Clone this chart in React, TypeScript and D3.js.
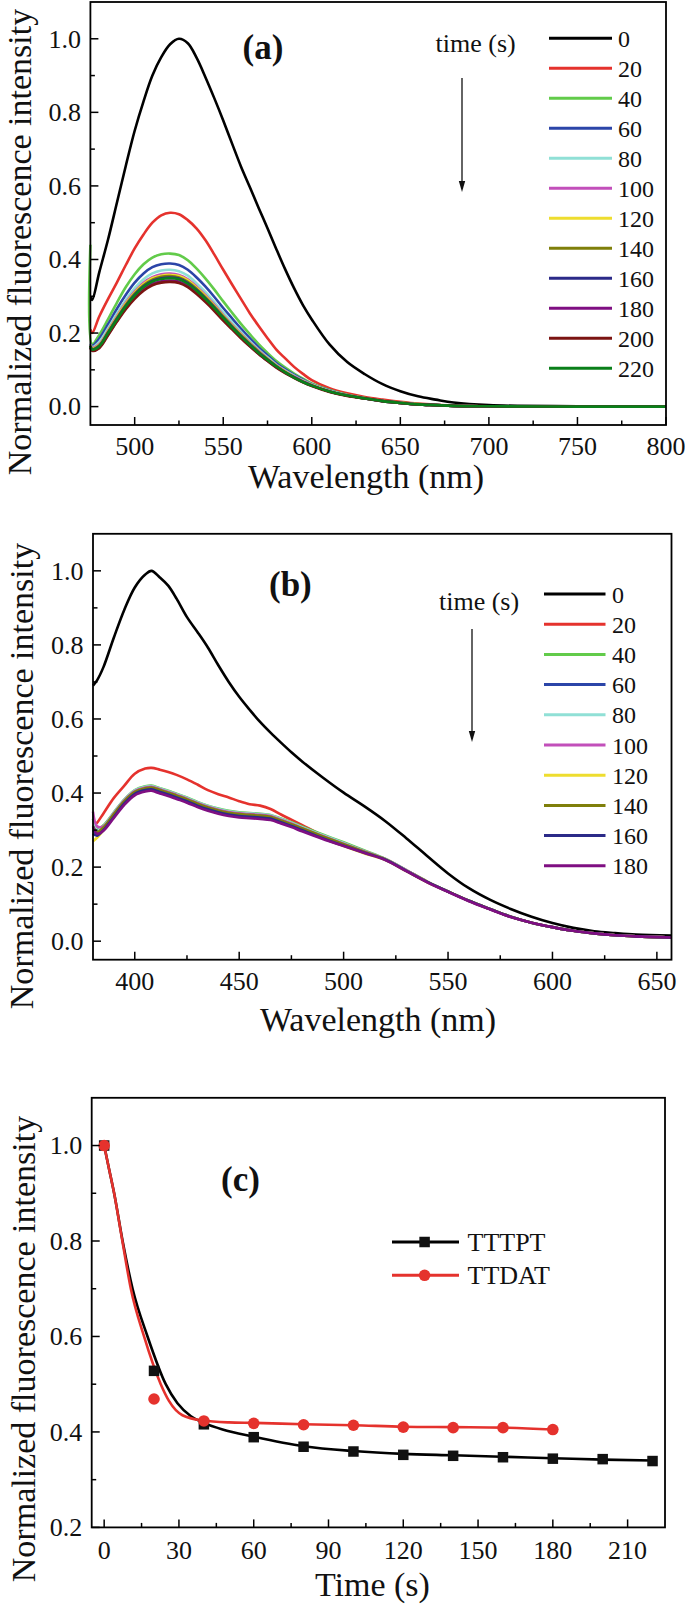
import React from 'react';
import * as d3 from 'd3';

const FONT = 'Liberation Serif, Tinos, Times New Roman, DejaVu Serif, serif';

// ---------- Panel (a) ----------
const A_WL = [475, 476, 480, 485, 490, 495, 500, 505, 510, 515, 520, 525, 530, 535, 540, 545, 550, 555, 560, 565, 570, 575, 580, 585, 590, 595, 600, 610, 620, 630, 640, 650, 660, 670, 680, 700, 750, 800];
const A_T0 = [0.30, 0.29, 0.365, 0.455, 0.555, 0.655, 0.75, 0.83, 0.90, 0.95, 0.985, 1.0, 0.988, 0.948, 0.895, 0.838, 0.778, 0.715, 0.653, 0.597, 0.54, 0.485, 0.428, 0.373, 0.322, 0.276, 0.237, 0.169, 0.121, 0.088, 0.061, 0.042, 0.028, 0.019, 0.011, 0.004, 0.001, 0.0];
const A_T20 = [0.21, 0.2, 0.245, 0.293, 0.338, 0.385, 0.43, 0.468, 0.5, 0.52, 0.527, 0.523, 0.507, 0.484, 0.452, 0.413, 0.372, 0.332, 0.293, 0.254, 0.219, 0.186, 0.155, 0.131, 0.108, 0.089, 0.072, 0.05, 0.036, 0.026, 0.019, 0.013, 0.008, 0.005, 0.003, 0.001, 0, 0];
const A_T40 = [0.44, 0.17, 0.195, 0.238, 0.283, 0.325, 0.36, 0.387, 0.405, 0.414, 0.416, 0.412, 0.398, 0.375, 0.348, 0.318, 0.286, 0.255, 0.225, 0.197, 0.17, 0.146, 0.124, 0.106, 0.09, 0.076, 0.063, 0.045, 0.032, 0.023, 0.016, 0.011, 0.007, 0.004, 0.002, 0.001, 0, 0];
const A_T60 = [0.17, 0.165, 0.185, 0.224, 0.266, 0.304, 0.337, 0.362, 0.379, 0.387, 0.389, 0.385, 0.372, 0.351, 0.326, 0.298, 0.268, 0.24, 0.212, 0.186, 0.161, 0.139, 0.118, 0.101, 0.086, 0.073, 0.061, 0.044, 0.031, 0.022, 0.015, 0.01, 0.006, 0.004, 0.002, 0.001, 0, 0];
const A_T80 = [0.17, 0.162, 0.176, 0.213, 0.253, 0.29, 0.322, 0.346, 0.362, 0.37, 0.372, 0.368, 0.356, 0.335, 0.311, 0.284, 0.256, 0.229, 0.203, 0.178, 0.155, 0.134, 0.114, 0.098, 0.084, 0.071, 0.06, 0.043, 0.031, 0.022, 0.015, 0.01, 0.006, 0.004, 0.002, 0.001, 0, 0];
const A_T100 = [0.168, 0.16, 0.17, 0.207, 0.246, 0.283, 0.313, 0.337, 0.352, 0.36, 0.362, 0.358, 0.346, 0.326, 0.303, 0.277, 0.249, 0.223, 0.198, 0.174, 0.152, 0.131, 0.112, 0.096, 0.082, 0.07, 0.059, 0.042, 0.03, 0.022, 0.015, 0.01, 0.006, 0.004, 0.002, 0.001, 0, 0];
const A_T120 = [0.166, 0.158, 0.168, 0.205, 0.244, 0.28, 0.31, 0.333, 0.349, 0.356, 0.358, 0.355, 0.343, 0.323, 0.3, 0.274, 0.247, 0.221, 0.196, 0.172, 0.15, 0.13, 0.111, 0.095, 0.081, 0.069, 0.058, 0.042, 0.03, 0.022, 0.015, 0.01, 0.006, 0.004, 0.002, 0.001, 0, 0];
const A_T140 = [0.165, 0.157, 0.166, 0.203, 0.241, 0.277, 0.307, 0.33, 0.345, 0.353, 0.355, 0.351, 0.339, 0.32, 0.297, 0.272, 0.245, 0.219, 0.194, 0.171, 0.149, 0.129, 0.11, 0.094, 0.08, 0.068, 0.058, 0.041, 0.03, 0.022, 0.015, 0.01, 0.006, 0.004, 0.002, 0.001, 0, 0];
const A_T160 = [0.164, 0.156, 0.165, 0.201, 0.239, 0.274, 0.304, 0.327, 0.342, 0.349, 0.351, 0.348, 0.336, 0.317, 0.294, 0.269, 0.242, 0.217, 0.192, 0.169, 0.147, 0.128, 0.109, 0.093, 0.08, 0.068, 0.057, 0.041, 0.03, 0.022, 0.015, 0.01, 0.006, 0.004, 0.002, 0.001, 0, 0];
const A_T180 = [0.16, 0.153, 0.161, 0.196, 0.233, 0.268, 0.297, 0.319, 0.334, 0.341, 0.343, 0.34, 0.328, 0.31, 0.288, 0.263, 0.237, 0.212, 0.188, 0.165, 0.144, 0.125, 0.107, 0.092, 0.079, 0.067, 0.057, 0.041, 0.03, 0.022, 0.015, 0.01, 0.006, 0.004, 0.002, 0.001, 0, 0];
const A_T200 = [0.16, 0.152, 0.159, 0.194, 0.231, 0.265, 0.293, 0.315, 0.33, 0.337, 0.339, 0.336, 0.325, 0.306, 0.284, 0.26, 0.234, 0.21, 0.186, 0.164, 0.143, 0.124, 0.106, 0.091, 0.078, 0.066, 0.056, 0.04, 0.029, 0.022, 0.015, 0.01, 0.006, 0.004, 0.002, 0.001, 0, 0];
const A_T220 = [0.165, 0.155, 0.164, 0.2, 0.237, 0.273, 0.302, 0.325, 0.34, 0.347, 0.349, 0.346, 0.334, 0.315, 0.292, 0.267, 0.241, 0.215, 0.191, 0.168, 0.146, 0.127, 0.109, 0.093, 0.079, 0.067, 0.057, 0.041, 0.03, 0.022, 0.015, 0.01, 0.006, 0.004, 0.002, 0.001, 0, 0];
const A_SERIES = [A_T0, A_T20, A_T40, A_T60, A_T80, A_T100, A_T120, A_T140, A_T160, A_T180, A_T200, A_T220];
const A_LABELS = ['0', '20', '40', '60', '80', '100', '120', '140', '160', '180', '200', '220'];
const A_COLORS = ['#000000', '#E5322D', '#62CB4A', '#2B45A8', '#90E0D6', '#C24FBA', '#EEDD2E', '#7F7F0A', '#2B2A88', '#7F0F82', '#7B1412', '#0A7F1A'];
const A_X_TICKS = [500, 550, 600, 650, 700, 750, 800];
const A_X_MINOR = [525, 575, 625, 675, 725, 775];

// ---------- Panel (b) ----------
const B_WL = [380, 382, 385, 390, 395, 400, 405, 408, 412, 416, 420, 425, 430, 435, 440, 445, 450, 455, 460, 465, 470, 475, 480, 490, 500, 510, 520, 530, 540, 550, 560, 570, 580, 590, 600, 610, 620, 630, 640, 657];
const B_T0 = [0.69, 0.705, 0.74, 0.82, 0.895, 0.955, 0.99, 1.0, 0.982, 0.96, 0.925, 0.875, 0.835, 0.793, 0.745, 0.70, 0.66, 0.625, 0.592, 0.563, 0.536, 0.51, 0.486, 0.442, 0.401, 0.364, 0.324, 0.278, 0.23, 0.183, 0.143, 0.112, 0.087, 0.066, 0.049, 0.036, 0.027, 0.022, 0.018, 0.015];
const B_T20 = [0.31, 0.32, 0.345, 0.387, 0.42, 0.452, 0.466, 0.468, 0.463, 0.457, 0.449, 0.437, 0.423, 0.408, 0.397, 0.388, 0.378, 0.37, 0.366, 0.357, 0.342, 0.328, 0.314, 0.285, 0.262, 0.242, 0.222, 0.192, 0.161, 0.134, 0.109, 0.087, 0.066, 0.05, 0.038, 0.028, 0.021, 0.016, 0.013, 0.01];
const B_T40 = [0.33, 0.303, 0.313, 0.348, 0.383, 0.408, 0.418, 0.42, 0.413, 0.406, 0.398, 0.388, 0.376, 0.366, 0.358, 0.352, 0.348, 0.346, 0.344, 0.341, 0.331, 0.321, 0.31, 0.288, 0.267, 0.245, 0.222, 0.192, 0.161, 0.134, 0.109, 0.087, 0.066, 0.05, 0.038, 0.028, 0.021, 0.016, 0.013, 0.01];
const B_T60 = [0.30, 0.29, 0.305, 0.343, 0.378, 0.403, 0.413, 0.415, 0.408, 0.401, 0.393, 0.383, 0.371, 0.361, 0.353, 0.347, 0.343, 0.341, 0.339, 0.336, 0.326, 0.316, 0.305, 0.283, 0.262, 0.241, 0.221, 0.191, 0.16, 0.134, 0.109, 0.087, 0.066, 0.05, 0.038, 0.028, 0.021, 0.016, 0.013, 0.01];
const B_T80 = [0.33, 0.30, 0.31, 0.347, 0.382, 0.407, 0.417, 0.419, 0.412, 0.405, 0.397, 0.387, 0.375, 0.365, 0.357, 0.351, 0.347, 0.345, 0.343, 0.34, 0.33, 0.32, 0.308, 0.286, 0.265, 0.243, 0.222, 0.191, 0.16, 0.134, 0.109, 0.087, 0.066, 0.05, 0.038, 0.028, 0.021, 0.016, 0.013, 0.01];
const B_T100 = [0.35, 0.31, 0.31, 0.345, 0.38, 0.405, 0.415, 0.417, 0.41, 0.403, 0.395, 0.385, 0.373, 0.363, 0.355, 0.349, 0.345, 0.343, 0.341, 0.338, 0.328, 0.318, 0.306, 0.284, 0.263, 0.242, 0.221, 0.191, 0.16, 0.134, 0.109, 0.087, 0.066, 0.05, 0.038, 0.028, 0.021, 0.016, 0.013, 0.01];
const B_T120 = [0.27, 0.28, 0.3, 0.338, 0.374, 0.40, 0.41, 0.412, 0.405, 0.398, 0.39, 0.38, 0.368, 0.358, 0.35, 0.344, 0.34, 0.337, 0.334, 0.331, 0.321, 0.311, 0.3, 0.278, 0.257, 0.237, 0.219, 0.189, 0.159, 0.134, 0.109, 0.087, 0.066, 0.05, 0.038, 0.028, 0.021, 0.016, 0.013, 0.01];
const B_T140 = [0.31, 0.295, 0.307, 0.343, 0.378, 0.403, 0.413, 0.415, 0.408, 0.401, 0.393, 0.383, 0.371, 0.361, 0.353, 0.347, 0.343, 0.341, 0.339, 0.336, 0.326, 0.316, 0.305, 0.283, 0.262, 0.241, 0.221, 0.19, 0.16, 0.134, 0.109, 0.087, 0.066, 0.05, 0.038, 0.028, 0.021, 0.016, 0.013, 0.01];
const B_T160 = [0.29, 0.285, 0.3, 0.336, 0.372, 0.398, 0.408, 0.41, 0.403, 0.396, 0.388, 0.378, 0.366, 0.356, 0.348, 0.342, 0.338, 0.336, 0.334, 0.331, 0.321, 0.311, 0.3, 0.278, 0.258, 0.239, 0.22, 0.19, 0.16, 0.134, 0.109, 0.087, 0.066, 0.05, 0.038, 0.028, 0.021, 0.016, 0.013, 0.01];
const B_T180 = [0.31, 0.29, 0.298, 0.333, 0.368, 0.394, 0.404, 0.406, 0.399, 0.392, 0.384, 0.374, 0.362, 0.352, 0.344, 0.338, 0.334, 0.332, 0.33, 0.327, 0.318, 0.308, 0.297, 0.276, 0.257, 0.238, 0.219, 0.189, 0.159, 0.133, 0.108, 0.086, 0.065, 0.05, 0.038, 0.028, 0.021, 0.016, 0.013, 0.01];
const B_SERIES = [B_T0, B_T20, B_T40, B_T60, B_T80, B_T100, B_T120, B_T140, B_T160, B_T180];
const B_LABELS = ['0', '20', '40', '60', '80', '100', '120', '140', '160', '180'];
const B_COLORS = ['#000000', '#E5322D', '#62CB4A', '#2B45A8', '#90E0D6', '#C24FBA', '#EEDD2E', '#7F7F0A', '#2B2A88', '#7F0F82'];
const B_X_TICKS = [400, 450, 500, 550, 600, 650];
const B_X_MINOR = [425, 475, 525, 575, 625];

const AB_Y_TICKS = [0, 0.2, 0.4, 0.6, 0.8, 1.0];
const AB_Y_MINOR = [0.1, 0.3, 0.5, 0.7, 0.9];

// ---------- Panel (c) ----------
const C_TIME = [0, 20, 40, 60, 80, 100, 120, 140, 160, 180, 200, 220];
const C_TTTPT = [1.0, 0.528, 0.416, 0.389, 0.369, 0.359, 0.352, 0.35, 0.347, 0.344, 0.343, 0.339];
const C_TIME_TTDAT = [0, 20, 40, 60, 80, 100, 120, 140, 160, 180];
const C_TTDAT = [1.0, 0.469, 0.423, 0.418, 0.415, 0.414, 0.41, 0.409, 0.409, 0.405];
const C_FIT_TTTPT_T = [0, 2, 4, 7.4, 11.4, 17.4, 24.7, 29.4, 34.8, 40, 47.5, 60, 80, 100, 120, 140, 160, 180, 200, 220];
const C_FIT_TTTPT = [1.0, 0.95, 0.9, 0.8, 0.7, 0.6, 0.5, 0.46, 0.433, 0.419, 0.405, 0.39, 0.37, 0.36, 0.354, 0.351, 0.348, 0.345, 0.342, 0.34];
const C_FIT_TTDAT_T = [0, 2, 4, 7.3, 10.7, 16, 22.7, 26, 31.4, 39.4, 50, 60, 80, 100, 120, 140, 160, 180];
const C_FIT_TTDAT = [1.0, 0.95, 0.9, 0.8, 0.7, 0.6, 0.5, 0.465, 0.435, 0.424, 0.42, 0.419, 0.416, 0.414, 0.411, 0.41, 0.409, 0.405];
const C_X_TICKS = [0, 30, 60, 90, 120, 150, 180, 210];
const C_X_MINOR = [15, 45, 75, 105, 135, 165, 195];
const C_Y_TICKS = [0.2, 0.4, 0.6, 0.8, 1.0];
const C_Y_MINOR = [0.3, 0.5, 0.7, 0.9];

const fmt1 = d3.format('.1f');

type Scale = d3.ScaleLinear<number, number>;

function Axes(props: {
  x: Scale; y: Scale; xTicks: number[]; xMinor: number[]; yTicks: number[]; yMinor: number[];
  xLabelY: number; xFmt: (v: number) => string;
}) {
  const { x, y, xTicks, xMinor, yTicks, yMinor, xLabelY, xFmt } = props;
  const [x0, x1] = x.range();
  const [yb, yt] = y.range();
  const MAJ = 8, MIN = 4.5;
  return (
    <g>
      {xTicks.map((t) => (
        <line key={'xt' + t} x1={x(t)} x2={x(t)} y1={yb} y2={yb - MAJ} stroke="#000" strokeWidth={1.5} />
      ))}
      {xMinor.map((t) => (
        <line key={'xm' + t} x1={x(t)} x2={x(t)} y1={yb} y2={yb - MIN} stroke="#000" strokeWidth={1.5} />
      ))}
      {yTicks.map((t) => (
        <line key={'yt' + t} x1={x0} x2={x0 + MAJ} y1={y(t)} y2={y(t)} stroke="#000" strokeWidth={1.5} />
      ))}
      {yMinor.map((t) => (
        <line key={'ym' + t} x1={x0} x2={x0 + MIN} y1={y(t)} y2={y(t)} stroke="#000" strokeWidth={1.5} />
      ))}
      {xTicks.map((t) => (
        <text key={'xl' + t} x={x(t)} y={xLabelY} textAnchor="middle" fontSize={26} fontFamily={FONT} fill="#111">
          {xFmt(t)}
        </text>
      ))}
      {yTicks.map((t) => (
        <text key={'yl' + t} x={x0 - 9.5} y={y(t) + 8.8} textAnchor="end" fontSize={26} fontFamily={FONT} fill="#111">
          {fmt1(t)}
        </text>
      ))}
      <rect x={x0} y={yt} width={x1 - x0} height={yb - yt} fill="none" stroke="#000" strokeWidth={1.8} />
    </g>
  );
}

function Arrow({ x, y1, y2 }: { x: number; y1: number; y2: number }) {
  return (
    <g>
      <line x1={x} x2={x} y1={y1} y2={y2 - 9} stroke="#111" strokeWidth={1.3} />
      <path d={`M${x - 3.2},${y2 - 11} L${x + 3.2},${y2 - 11} L${x},${y2} Z`} fill="#111" />
    </g>
  );
}

function SpectraPanel(props: {
  wl: number[]; series: number[][]; colors: string[]; labels: string[];
  left: number; right: number; top: number; bottom: number; domain: [number, number];
  xTicks: number[]; xMinor: number[]; xLabelY: number;
  legendY0: number; legendStep: number; legendX1: number; legendX2: number; legendTextX: number;
  tag: string; tagX: number; tagY: number; timeX: number; timeY: number;
  arrowX: number; arrowY1: number; arrowY2: number;
  xTitleX: number; xTitleY: number; yTitleX: number; yTitleY: number;
}) {
  const p = props;
  const x = d3.scaleLinear().domain(p.domain).range([p.left, p.right]);
  const y = d3.scaleLinear().domain([-0.05, 1.1]).range([p.bottom, p.top]);
  const line = d3
    .line<[number, number]>()
    .x((d) => x(d[0]))
    .y((d) => y(d[1]))
    .curve(d3.curveCatmullRom.alpha(0.5));
  return (
    <g>
      {p.series.map((vals, i) => {
        const pts: [number, number][] = p.wl.slice(0, vals.length).map((w, j) => [w, vals[j]]);
        return <path key={i} d={line(pts) || ''} fill="none" stroke={p.colors[i]} strokeWidth={2.6} strokeLinejoin="round" />;
      })}
      <Axes x={x} y={y} xTicks={p.xTicks} xMinor={p.xMinor} yTicks={AB_Y_TICKS} yMinor={AB_Y_MINOR} xLabelY={p.xLabelY} xFmt={(v) => String(v)} />
      {p.labels.map((lab, i) => {
        const ly = p.legendY0 + p.legendStep * i;
        return (
          <g key={'lg' + i}>
            <line x1={p.legendX1} x2={p.legendX2} y1={ly} y2={ly} stroke={p.colors[i]} strokeWidth={3} />
            <text x={p.legendTextX} y={ly + 8.5} fontSize={24} fontFamily={FONT} fill="#111">{lab}</text>
          </g>
        );
      })}
      <text x={p.tagX} y={p.tagY} fontSize={35} fontWeight="bold" fontFamily={FONT} fill="#111">{p.tag}</text>
      <text x={p.timeX} y={p.timeY} fontSize={26} fontFamily={FONT} fill="#111">time (s)</text>
      <Arrow x={p.arrowX} y1={p.arrowY1} y2={p.arrowY2} />
      <text x={p.xTitleX} y={p.xTitleY} textAnchor="middle" fontSize={34} fontFamily={FONT} fill="#111">Wavelength (nm)</text>
      <text transform={`translate(${p.yTitleX},${p.yTitleY}) rotate(-90)`} textAnchor="middle" fontSize={34} fontFamily={FONT} fill="#111">
        Normalized fluorescence intensity
      </text>
    </g>
  );
}

function PanelC() {
  const left = 91.7, right = 665, top = 1097.8, bottom = 1527.4;
  const x = d3.scaleLinear().domain([-5, 225]).range([left, right]);
  const y = d3.scaleLinear().domain([0.2, 1.1]).range([bottom, top]);
  const line = d3
    .line<[number, number]>()
    .x((d) => x(d[0]))
    .y((d) => y(d[1]))
    .curve(d3.curveMonotoneX);
  const fitBlack: [number, number][] = C_FIT_TTTPT_T.map((t, i) => [t, C_FIT_TTTPT[i]]);
  const fitRed: [number, number][] = C_FIT_TTDAT_T.map((t, i) => [t, C_FIT_TTDAT[i]]);
  const RED = '#E5322D';
  const SQ = 10.5;
  const legX1 = 392, legX2 = 459, legM = 424.6, legY1 = 1242, legY2 = 1275.3;
  return (
    <g>
      <path d={line(fitBlack) || ''} fill="none" stroke="#000" strokeWidth={2.6} />
      <path d={line(fitRed) || ''} fill="none" stroke={RED} strokeWidth={2.6} />
      {C_TIME.map((t, i) => (
        <rect key={'s' + t} x={x(t) - SQ / 2} y={y(C_TTTPT[i]) - SQ / 2} width={SQ} height={SQ} fill="#111" />
      ))}
      {C_TIME_TTDAT.map((t, i) => (
        <circle key={'c' + t} cx={x(t)} cy={y(C_TTDAT[i])} r={5.8} fill={RED} />
      ))}
      <Axes x={x} y={y} xTicks={C_X_TICKS} xMinor={C_X_MINOR} yTicks={C_Y_TICKS} yMinor={C_Y_MINOR} xLabelY={1559} xFmt={(v) => String(v)} />
      <line x1={legX1} x2={legX2} y1={legY1} y2={legY1} stroke="#000" strokeWidth={3} />
      <rect x={legM - SQ / 2} y={legY1 - SQ / 2} width={SQ} height={SQ} fill="#111" />
      <text x={467.5} y={legY1 + 9} fontSize={26} fontFamily={FONT} fill="#111">TTTPT</text>
      <line x1={legX1} x2={legX2} y1={legY2} y2={legY2} stroke={RED} strokeWidth={3} />
      <circle cx={legM} cy={legY2} r={5.8} fill={RED} />
      <text x={467.5} y={legY2 + 9} fontSize={26} fontFamily={FONT} fill="#111">TTDAT</text>
      <text x={221} y={1191} fontSize={35} fontWeight="bold" fontFamily={FONT} fill="#111">(c)</text>
      <text x={372.4} y={1596} textAnchor="middle" fontSize={34} fontFamily={FONT} fill="#111">Time (s)</text>
      <text transform={`translate(35,1349) rotate(-90)`} textAnchor="middle" fontSize={34} fontFamily={FONT} fill="#111">
        Normalized fluorescence intensity
      </text>
    </g>
  );
}

export default function App() {
  return (
    <svg width={685} height={1609} viewBox="0 0 685 1609" style={{ position: 'absolute', left: 0, top: 0, background: '#fff' }}>
      <rect x={0} y={0} width={685} height={1609} fill="#fff" />
      <SpectraPanel
        wl={A_WL} series={A_SERIES} colors={A_COLORS} labels={A_LABELS}
        left={90.4} right={666} top={2} bottom={425} domain={[475, 800]}
        xTicks={A_X_TICKS} xMinor={A_X_MINOR} xLabelY={455}
        legendY0={38.3} legendStep={30} legendX1={549} legendX2={612} legendTextX={618}
        tag="(a)" tagX={242.5} tagY={59} timeX={435.6} timeY={52}
        arrowX={462} arrowY1={78} arrowY2={192}
        xTitleX={366} xTitleY={488} yTitleX={30.6} yTitleY={242}
      />
      <SpectraPanel
        wl={B_WL} series={B_SERIES} colors={B_COLORS} labels={B_LABELS}
        left={93} right={671.5} top={533.8} bottom={959.7} domain={[380, 657]}
        xTicks={B_X_TICKS} xMinor={B_X_MINOR} xLabelY={990}
        legendY0={594} legendStep={30.2} legendX1={544} legendX2={605.5} legendTextX={612}
        tag="(b)" tagX={269} tagY={596} timeX={439} timeY={610}
        arrowX={472} arrowY1={629} arrowY2={742}
        xTitleX={378} xTitleY={1031} yTitleX={32.8} yTitleY={776}
      />
      <PanelC />
    </svg>
  );
}
